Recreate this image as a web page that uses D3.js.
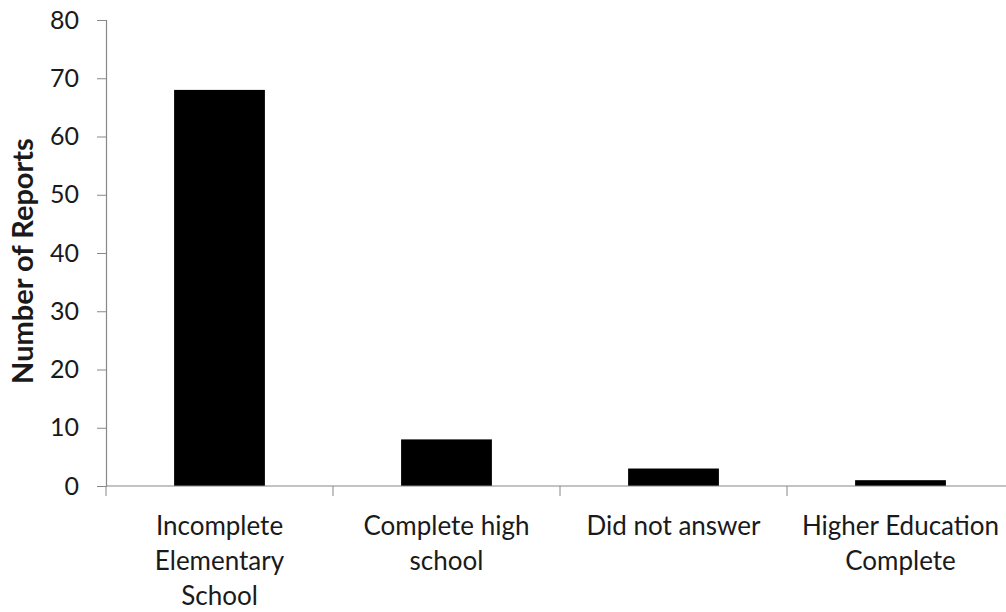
<!DOCTYPE html>
<html>
<head>
<meta charset="utf-8">
<script src="https://cdn.jsdelivr.net/npm/d3@7"></script>
<style>
  body { margin: 0; background: #fff; }
  text { font-family: Lato, "Open Sans", sans-serif; fill: #1a1a1a; }
</style>
</head>
<body>
<div id="chart"></div>
<script>
// data
var categories = [
  ["Incomplete", "Elementary", "School"],
  ["Complete high", "school"],
  ["Did not answer"],
  ["Higher Education", "Complete"]
];
var reports = [68, 8, 3, 1];
var yTicks = [0, 10, 20, 30, 40, 50, 60, 70, 80];

var width = 1006, height = 612;
var margin = {top: 20, left: 106, bottom: 126};

var svg = d3.select("#chart")
  .append("svg")
    .attr("width", width)
    .attr("height", height);

var x = d3.scaleBand()
  .domain(d3.range(categories.length))
  .range([margin.left, 1014])
  .paddingInner(0.6)
  .paddingOuter(0.3);

var y = d3.scaleLinear()
  .domain([0, 80])
  .range([height - margin.bottom, margin.top]);

// bars
svg.append("g")
  .selectAll("rect")
  .data(reports)
  .enter()
  .append("rect")
    .attr("x", function(d, i){ return x(i) })
    .attr("y", function(d){ return y(d) })
    .attr("width", x.bandwidth())
    .attr("height", function(d){ return y(0) - y(d) })
    .attr("fill", "#000");

// y axis
var yAxis = svg.append("g")
  .attr("transform", "translate(" + margin.left + ",0)")
  .call(d3.axisLeft(y).tickValues(yTicks).tickSize(9).tickPadding(18));
yAxis.select(".domain").attr("stroke", "#888").attr("stroke-width", 1.2);
yAxis.selectAll(".tick line").attr("stroke", "#888");
yAxis.selectAll(".tick text")
  .style("font-size", "25px")
  .attr("fill", "#1a1a1a");

// x axis: ticks on the band edges, labels in the middle
var step = x.step();
var edges = d3.range(categories.length + 1).map(function(i){ return margin.left + i * step });
var xAxis = svg.append("g");
xAxis.append("line")
  .attr("x1", margin.left).attr("x2", width)
  .attr("y1", y(0)).attr("y2", y(0))
  .attr("stroke", "#888").attr("stroke-width", 1.2);
xAxis.selectAll(".edge")
  .data(edges)
  .enter()
  .append("line")
    .attr("x1", function(d){ return d }).attr("x2", function(d){ return d })
    .attr("y1", y(0)).attr("y2", y(0) + 10)
    .attr("stroke", "#888");

var labels = xAxis.selectAll(".cat")
  .data(categories)
  .enter()
  .append("text")
    .attr("text-anchor", "middle")
    .attr("x", function(d, i){ return x(i) + x.bandwidth() / 2 })
    .attr("y", 535)
    .style("font-size", "26px");
labels.selectAll("tspan")
  .data(function(d){ return d })
  .enter()
  .append("tspan")
    .attr("x", function(){ return d3.select(this.parentNode).attr("x") })
    .attr("dy", function(d, i){ return i == 0 ? 0 : 35 })
    .text(function(d){ return d });

// y title
svg.append("text")
  .attr("transform", "translate(33,261) rotate(-90)")
  .attr("text-anchor", "middle")
  .style("font-size", "29px")
  .style("font-weight", "bold")
  .text("Number of Reports");
</script>
</body>
</html>
